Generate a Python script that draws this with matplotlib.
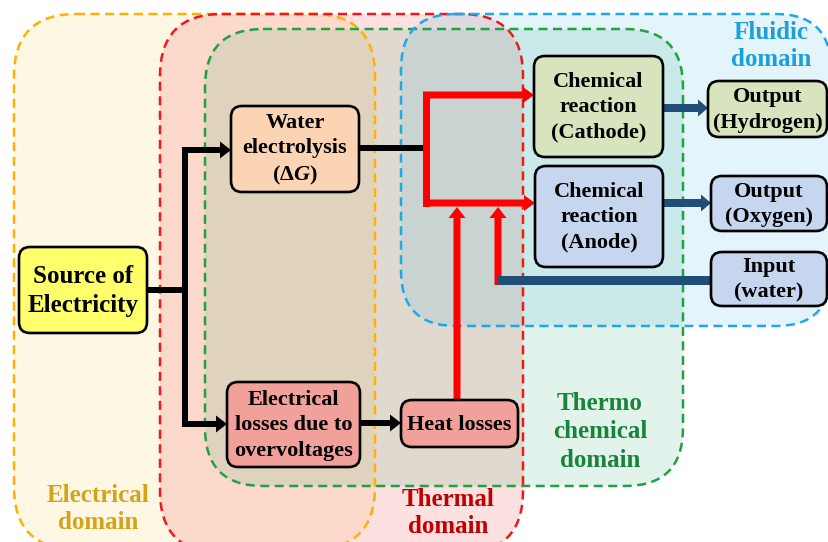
import matplotlib.pyplot as plt
from matplotlib.patches import FancyBboxPatch

plt.rcParams['font.family'] = ['Liberation Serif', 'DejaVu Serif']
plt.rcParams['font.weight'] = 'bold'
plt.rcParams['mathtext.fontset'] = 'custom'
plt.rcParams['mathtext.it'] = 'Liberation Serif:italic:bold'
plt.rcParams['mathtext.rm'] = 'Liberation Serif:bold'

# domain labels and colours
domain_labels = ['Electrical\ndomain', 'Thermal\ndomain', 'Thermo\nchemical\ndomain', 'Fluidic\ndomain']
domain_edge = ['#FFB000', '#F01818', '#22A045', '#1EA8E6']
domain_fill = ['#FAD778', '#F56464', '#3CB478', '#1EAAE6']
domain_alpha = [0.2, 0.2, 0.15, 0.12]
domain_text = ['#D4A418', '#C00000', '#17843A', '#1BA0DA']
domain_spacing = [1.23, 1.23, 1.32, 1.23]

# box texts
box_labels = ['Source of\nElectricity', 'Water\nelectrolysis\n(Δ$G$)',
              'Electrical\nlosses due to\novervoltages', 'Heat losses',
              'Chemical\nreaction\n(Cathode)', 'Chemical\nreaction\n(Anode)',
              'Output\n(Hydrogen)', 'Output\n(Oxygen)', 'Input\n(water)']
box_fill = ['#FFFF6B', '#FBD4B4', '#F2A09A', '#F2A09A', '#D7E4BD',
            '#C6D6EF', '#D7E4BD', '#C6D6EF', '#C6D6EF']
box_font = [18, 16, 16, 16, 16, 16, 16, 16, 16]

# layout (pixel units, y downwards)
domain_rect = [(14, 14, 375, 549), (160, 14, 523, 553), (205, 29, 683, 486), (401, 14, 831, 326)]
domain_round = [62, 62, 58, 55]
domain_label_xy = [(98, 509), (448, 513), (600, 432), (771, 46)]
box_rect = [(19, 247, 147, 333), (231, 106, 359, 192), (227, 382, 360, 467),
            (401, 400, 518, 447), (534, 56, 663, 157), (535, 166, 663, 267),
            (708, 81, 827, 137), (711, 176, 827, 231), (711, 252, 827, 306)]

W, H = 829, 542
fig = plt.figure(figsize=(W / 100, H / 100), dpi=100)
ax = fig.add_axes([0, 0, 1, 1])
ax.set_xlim(0, W)
ax.set_ylim(H, 0)
ax.axis('off')

# domain regions
for (x0, y0, x1, y1), r, fc, a in zip(domain_rect, domain_round, domain_fill, domain_alpha):
    ax.add_patch(FancyBboxPatch((x0, y0), x1 - x0, y1 - y0,
                                boxstyle=f'round,pad=0,rounding_size={r}',
                                fc=fc, alpha=a, lw=0, zorder=1))
# near invisible face keeps agg from clipping the curved outline badly
for (x0, y0, x1, y1), r, ec in zip(domain_rect, domain_round, domain_edge):
    ax.add_patch(FancyBboxPatch((x0, y0), x1 - x0, y1 - y0,
                                boxstyle=f'round,pad=0,rounding_size={r}',
                                fc=(1, 1, 1, 0.003), ec=ec, lw=1.8,
                                ls=(0, (3.6, 2.2)), zorder=2))
for lab, (x, y), c, sp in zip(domain_labels, domain_label_xy, domain_text, domain_spacing):
    ax.text(x, y, lab, color=c, fontsize=18, ha='center', va='center',
            linespacing=sp, zorder=3)


def line(xs, ys, color, w):
    ax.plot(xs, ys, color=color, lw=w * 0.72, solid_capstyle='projecting',
            solid_joinstyle='miter', zorder=4)


def arrow(x0, y0, x1, y1, color, w, hw, hl):
    ax.arrow(x0, y0, x1 - x0, y1 - y0, width=w, head_width=hw, head_length=hl,
             length_includes_head=True, color=color, lw=0, zorder=4)


black, red, blue = '#000000', '#FF0000', '#1F4E79'

# electrical paths
line([147, 185], [290, 290], black, 6)
line([185, 185], [150, 424], black, 6)
arrow(182, 150, 231, 150, black, 6, 17, 11)
arrow(182, 424, 227, 424, black, 6, 17, 11)
line([359, 426], [148, 148], black, 6)
arrow(360, 423, 401, 423, black, 6, 17, 11)

# thermal paths
line([426, 426], [95, 203], red, 7)
arrow(423, 95, 534, 95, red, 7, 16, 11)
arrow(423, 203, 535, 203, red, 7, 16, 11)
arrow(457, 400, 457, 207, red, 7, 17, 11)
arrow(498, 285, 498, 207, red, 7, 17, 11)

# fluid paths
line([502, 711], [280, 280], blue, 9)
arrow(663, 108, 708, 108, blue, 8, 17, 10)
arrow(663, 203, 711, 203, blue, 8, 17, 10)

# boxes
for (x0, y0, x1, y1), lab, fc, fs in zip(box_rect, box_labels, box_fill, box_font):
    ax.add_patch(FancyBboxPatch((x0, y0), x1 - x0, y1 - y0,
                                boxstyle='round,pad=0,rounding_size=11',
                                fc=fc, ec='black', lw=1.9, zorder=5))
    ax.text((x0 + x1) / 2, (y0 + y1) / 2 + 1, lab, fontsize=fs, ha='center',
            va='center', linespacing=1.35, zorder=6)

fig.savefig('out.png', dpi=100)
